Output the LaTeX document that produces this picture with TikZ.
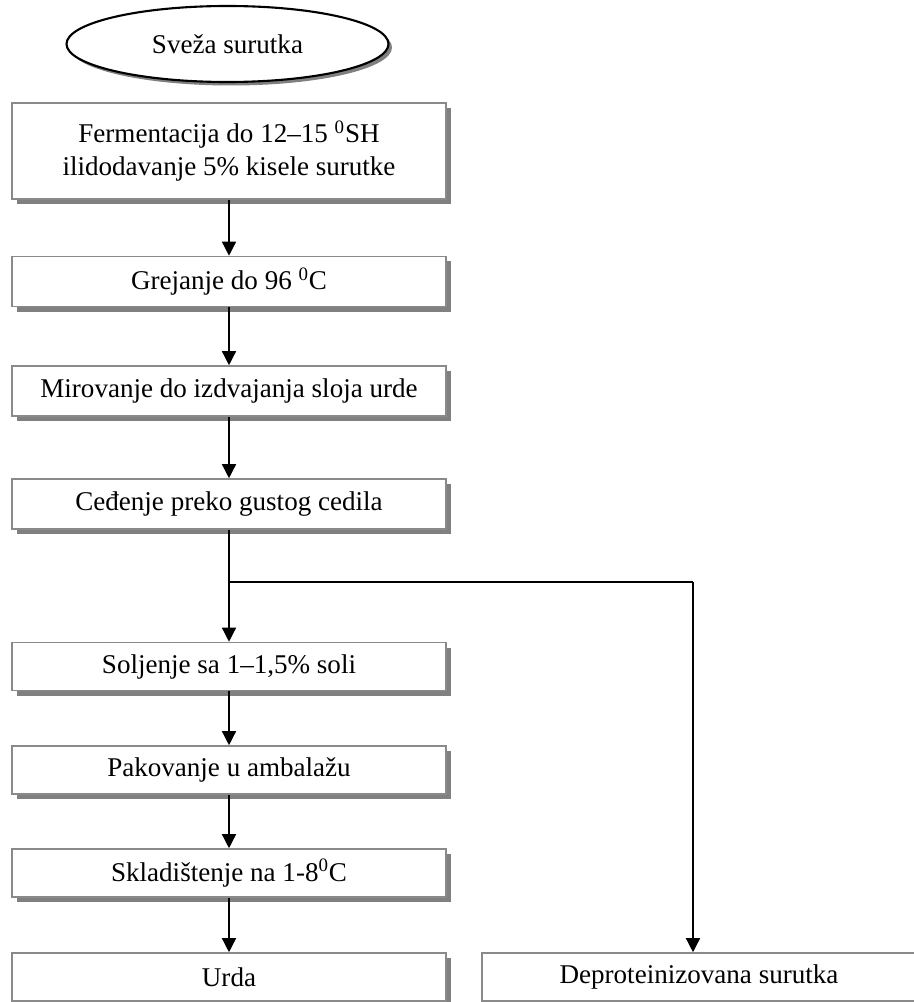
\documentclass[tikz,border=0pt]{standalone}
\usepackage{fontspec}
\setmainfont{Liberation Serif}
\usepackage{xcolor}
\usepackage{tikz}
\usetikzlibrary{arrows.meta,positioning,shapes.geometric,shadows,calc}
\definecolor{senka}{HTML}{808080}
\definecolor{okvir}{HTML}{8A8A8A}

\tikzset{
  blok/.style={draw=okvir,line width=0.9pt,fill=white,minimum width=8.68cm,minimum height=1cm,
    align=center,inner sep=2pt,font=\fontsize{15.4}{18.5}\selectfont,
    drop shadow={shadow xshift=0.1cm,shadow yshift=-0.1cm,fill=senka,opacity=1}},
  elipsa/.style={ellipse,draw=black,line width=1.2pt,fill=white,minimum width=6.44cm,minimum height=1.52cm,
    inner sep=0pt,font=\fontsize{15.4}{18.5}\selectfont,
    drop shadow={shadow xshift=0.07cm,shadow yshift=-0.07cm,fill=senka,opacity=1}},
  strelica/.style={line width=0.8pt,-{Triangle[length=8pt,width=8pt]}},
  linija/.style={line width=0.8pt}
}

\begin{document}
\begin{tikzpicture}
\useasboundingbox (0,0) rectangle (18.28,-20.04);
\node[elipsa] (sveza) at (4.55,-0.88) {Sveža surutka};
\node[blok,minimum height=1.92cm] (ferm) at (4.58,-3.02) {Fermentacija do 12–15 \textsuperscript{0}SH\\ilidodavanje 5\% kisele surutke};
\node[blok] (grej) at (4.58,-5.63) {Grejanje do 96 \textsuperscript{0}C};
\node[blok] (mir) at (4.58,-7.82) {Mirovanje do izdvajanja sloja urde};
\node[blok] (cedj) at (4.58,-10.08) {Ceđenje preko gustog cedila};
\node[blok,minimum height=0.96cm] (solj) at (4.58,-13.33) {Soljenje sa 1–1,5\% soli};
\node[blok,minimum height=0.96cm] (pak) at (4.58,-15.4) {Pakovanje u ambalažu};
\node[blok,minimum height=0.96cm] (skl) at (4.58,-17.46) {Skladištenje na 1-8\textsuperscript{0}C};
\node[blok,minimum height=0.96cm] (urda) at (4.58,-19.54) {Urda};
\node[blok,minimum height=0.96cm] (dep) at (13.98,-19.54) {Deproteinizovana surutka};
\coordinate (grana) at (4.58,-11.64);
\coordinate (ugao) at (13.86,-11.64);
% glavni tok
\draw[strelica] (ferm) -- (grej);
\draw[strelica] (grej) -- (mir);
\draw[strelica] (mir) -- (cedj);
\draw[strelica] (cedj) -- (solj);
\draw[strelica] (solj) -- (pak);
\draw[strelica] (pak) -- (skl);
\draw[strelica] (skl) -- (urda);
% sporedni tok
\draw[linija] (grana) -- (ugao);
\draw[strelica] (ugao) -- (ugao |- dep.north);
\end{tikzpicture}
\end{document}
